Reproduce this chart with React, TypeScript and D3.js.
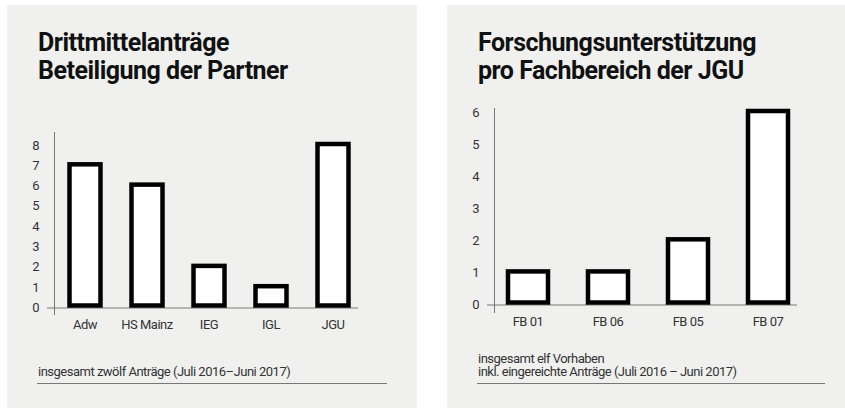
import React from "react";
import * as d3 from "d3";

const leftCategories = ["Adw", "HS Mainz", "IEG", "IGL", "JGU"];
const leftValues = [7, 6, 2, 1, 8];
const leftTicks = [0, 1, 2, 3, 4, 5, 6, 7, 8];
const leftTitle = ["Drittmittelanträge", "Beteiligung der Partner"];
const leftNote = ["insgesamt zwölf Anträge (Juli 2016–Juni 2017)"];

const rightCategories = ["FB 01", "FB 06", "FB 05", "FB 07"];
const rightValues = [1, 1, 2, 6];
const rightTicks = [0, 1, 2, 3, 4, 5, 6];
const rightTitle = ["Forschungsunterstützung", "pro Fachbereich der JGU"];
const rightNote = ["insgesamt elf Vorhaben", "inkl. eingereichte Anträge (Juli 2016 – Juni 2017)"];

const FONT = "Roboto, 'Noto Sans', sans-serif";
const BG = "#f0f1ef";

type PanelProps = {
  px: number; pw: number;
  title: string[]; note: string[];
  cats: string[]; vals: number[]; ticks: number[];
  textX: number;
  axisX: number; baseX0: number; baseX1: number; axisTop: number; axisBottom: number;
  y0: number; yMaxPx: number; yMax: number;
  bandX0: number; bandX1: number; padIn: number; padOut: number;
  tickX: number; catY: number;
  noteY: number; ruleY: number; ruleX0: number; ruleX1: number;
};

function Panel(p: PanelProps) {
  const y = d3.scaleLinear().domain([0, p.yMax]).range([p.y0, p.yMaxPx]);
  const x = d3.scaleBand<string>().domain(p.cats).range([p.bandX0, p.bandX1]).paddingInner(p.padIn).paddingOuter(p.padOut);
  return (
    <g>
      <rect x={p.px} y={5} width={p.pw} height={403} fill={BG} />
      {p.title.map((t, i) => (
        <text key={t} x={p.textX} y={51 + i * 28} fontFamily={FONT} fontWeight={700} fontSize={25} letterSpacing={-0.5} fill="#111">{t}</text>
      ))}
      <line x1={p.axisX} x2={p.axisX} y1={p.axisTop} y2={p.axisBottom} stroke="#777" strokeWidth={1} />
      <line x1={p.baseX0} x2={p.baseX1} y1={p.y0 + 0.5} y2={p.y0 + 0.5} stroke="#777" strokeWidth={1} />
      {p.ticks.map((t) => (
        <text key={t} x={p.tickX} y={y(t)} dy="0.35em" textAnchor="middle" fontFamily={FONT} fontSize={13} fill="#333">{t}</text>
      ))}
      {p.cats.map((c, i) => (
        <rect key={c} x={x(c)!} y={y(p.vals[i]) - 1} width={x.bandwidth()} height={p.y0 - y(p.vals[i]) - 1}
          fill="#fff" stroke="#000" strokeWidth={4.5} />
      ))}
      {p.cats.map((c) => (
        <text key={c} x={x(c)! + x.bandwidth() / 2} y={p.catY} textAnchor="middle" fontFamily={FONT} fontSize={13} letterSpacing={-0.5} fill="#333">{c}</text>
      ))}
      {p.note.map((n, i) => (
        <text key={n} x={p.textX} y={p.noteY - (p.note.length - 1 - i) * 13.5} fontFamily={FONT} fontSize={13} letterSpacing={-0.5} fill="#333">{n}</text>
      ))}
      <line x1={p.ruleX0} x2={p.ruleX1} y1={p.ruleY} y2={p.ruleY} stroke="#777" strokeWidth={1} />
    </g>
  );
}

export default function App() {
  return (
    <svg width={845} height={408} style={{ position: "absolute", left: 0, top: 0 }}>
      <rect width={845} height={408} fill="#fff" />
      <Panel px={7} pw={410} title={leftTitle} note={leftNote} cats={leftCategories} vals={leftValues} ticks={leftTicks}
        textX={38} axisX={54.5} baseX0={47} baseX1={358} axisTop={132} axisBottom={315}
        y0={307.5} yMaxPx={145} yMax={8}
        bandX0={54} bandX1={364} padIn={0.5} padOut={0.25}
        tickX={36} catY={329} noteY={376} ruleY={383.5} ruleX0={37} ruleX1={387} />
      <Panel px={447} pw={398} title={rightTitle} note={rightNote} cats={rightCategories} vals={rightValues} ticks={rightTicks}
        textX={478} axisX={494.5} baseX0={487} baseX1={797} axisTop={108} axisBottom={313}
        y0={304.5} yMaxPx={112} yMax={6}
        bandX0={488} bandX1={808} padIn={0.5} padOut={0.25}
        tickX={476} catY={326} noteY={376} ruleY={383.5} ruleX0={477} ruleX1={825} />
    </svg>
  );
}
